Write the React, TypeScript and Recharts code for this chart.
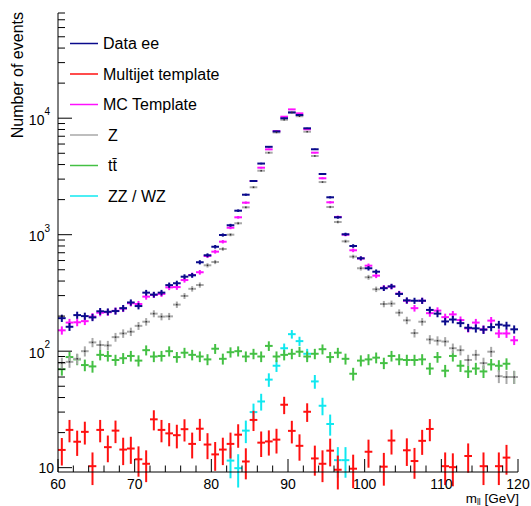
import React from 'react';
import { ComposedChart, Scatter, XAxis, YAxis, ErrorBar, Legend } from 'recharts';

const FONT = '"Liberation Sans", Arial, Helvetica, sans-serif';

const NAVY = '#0a0a8c';
const RED = '#ff1010';
const MAGENTA = '#ff10ff';
const GRAY = '#a8a8a8';
const GREEN = '#44c044';
const CYAN = '#10e8f0';

// bin centres in GeV
const binCenters = [
  60.5, 61.5, 62.5, 63.5, 64.5, 65.5, 66.5, 67.5, 68.5, 69.5,
  70.5, 71.5, 72.5, 73.5, 74.5, 75.5, 76.5, 77.5, 78.5, 79.5,
  80.5, 81.5, 82.5, 83.5, 84.5, 85.5, 86.5, 87.5, 88.5, 89.5,
  90.5, 91.5, 92.5, 93.5, 94.5, 95.5, 96.5, 97.5, 98.5, 99.5,
  100.5, 101.5, 102.5, 103.5, 104.5, 105.5, 106.5, 107.5, 108.5, 109.5,
  110.5, 111.5, 112.5, 113.5, 114.5, 115.5, 116.5, 117.5, 118.5, 119.5,
];

const dataEE = [
  192, 162, 204, 200, 195, 220, 218, 221, 234, 262,
  244, 318, 306, 318, 369, 383, 436, 448, 580, 666,
  788, 994, 1205, 1607, 2204, 2890, 4080, 5680, 7700, 9990,
  11200, 10650, 8190, 5410, 3320, 2094, 1410, 1008, 800, 627,
  515, 481, 347, 360, 310, 273, 271, 271, 226, 210,
  180, 187, 174, 159, 157, 153, 161, 169, 166, 154,
];

const multijet = [
  14.2, 21.1, 16.7, 20.3, 10.3, 21.1, 15.0, 20.8, 14.3, 14.6,
  11.8, 10.8, 26.0, 21.1, 19.7, 19.0, 21.4, 16.0, 21.6, 15.8,
  13.0, 14.3, 16.0, 19.2, 11.3, 25.7, 16.4, 16.8, 17.4, 34.7,
  20.7, 15.4, 30.2, 12.0, 10.8, 14.0, 9.6, null, 9.8, null,
  13.7, null, 10.2, 17.1, null, 14.1, 11.4, 17.0, 21.5, null,
  10.3, 10.1, null, 12.6, null, 10.3, null, 10.3, 12.2, null,
];

const mcTemplate = [
  151, 176, 177, 181, 198, 214, 216, 222, 232, 258,
  254, 294, 304, 310, 353, 355, 408, 451, 476, 656,
  715, 871, 1148, 1410, 1883, 2890, 3760, 5400, 7750, 10300,
  11900, 11000, 8040, 5060, 3050, 1897, 1420, 1000, 735, 625,
  542, 445, 350, 358, 312, 271, 234, 271, 212, 223,
  196, 207, 185, 157, 176, 154, 183, 142, 142, 124,
];

const zMC = [
  79, 81, 86, 100, 119, 113, 112, 132, 142, 147,
  165, 179, 210, 198, 199, 251, 298, 343, 370, 546,
  583, 754, 1000, 1253, 1718, 2553, 3542, 5058, 7550, 9700,
  11200, 10400, 7660, 4740, 2830, 1729, 1285, 877, 648, 515,
  431, 340, 254, 256, 214, 184, 143, 179, 126, 123,
  121, 106, 102, 84, 93, 79, 99, 61, 60, 60,
];

const ttbar = [
  70, 89, 85, 76, 74, 93, 91, 84, 87, 91,
  83, 102, 90, 91, 100, 89, 97, 93, 90, 85,
  105, 86, 98, 100, 90, 95, 90, 111, 90, 93,
  95, 99, 90, 95, 104, 89, 97, 86, 64, 83,
  85, 88, 79, 91, 85, 84, 84, 85, 71, 89,
  68, 91, 75, 67, 71, 67, 77, 75, 78, 60,
];

const dibosons = [
  null, null, null, null, null, null, null, null, null, null,
  null, null, null, null, null, null, null, null, null, null,
  null, null, 11.5, 9.9, 20.8, 30, 37, 57, 75, 106,
  140, 122, 95, 55, 34, 23.7, 11.6, 11.6, null, null,
  null, null, null, null, null, null, null, null, null, null,
  null, null, null, null, null, null, null, null, null, null,
];

const xTicks = [
  60, 62, 64, 66, 68, 70, 72, 74, 76, 78, 80, 82, 84, 86, 88, 90,
  92, 94, 96, 98, 100, 102, 104, 106, 108, 110, 112, 114, 116, 118, 120,
];
const xMajor = [60, 70, 80, 90, 100, 110, 120];

const yTicks = [
  10, 20, 30, 40, 50, 60, 70, 80, 90,
  100, 200, 300, 400, 500, 600, 700, 800, 900,
  1000, 2000, 3000, 4000, 5000, 6000, 7000, 8000, 9000,
  10000, 20000, 30000, 40000, 50000, 60000, 70000, 80000,
];
const yMajor = [10, 100, 1000, 10000];

const legendItems = [
  { label: 'Data ee', color: NAVY, indent: 0 },
  { label: 'Multijet template', color: RED, indent: 0 },
  { label: 'MC Template', color: MAGENTA, indent: 0 },
  { label: 'Z', color: GRAY, indent: 5 },
  { label: 't\u0074\u0304', color: GREEN, indent: 5 },
  { label: 'ZZ / WZ', color: CYAN, indent: 5 },
];

function build(vals: (number | null)[]) {
  const out: { x: number; y: number; ex: number; ey: number }[] = [];
  binCenters.forEach((x, i) => {
    const v = vals[i];
    if (v == null) return;
    out.push({ x, y: v, ex: 0.5, ey: Math.sqrt(v) });
  });
  return out;
}

const series = [
  { name: 'ZZ / WZ', vals: dibosons, color: CYAN, dot: false },
  { name: 'ttbar', vals: ttbar, color: GREEN, dot: false },
  { name: 'Z', vals: zMC, color: GRAY, dot: true },
  { name: 'Multijet template', vals: multijet, color: RED, dot: false },
  { name: 'MC Template', vals: mcTemplate, color: MAGENTA, dot: false },
  { name: 'Data ee', vals: dataEE, color: NAVY, dot: false },
];

const XTick = (props: any) => {
  const { x, y, payload } = props;
  const v = payload.value;
  const major = xMajor.includes(v);
  return (
    <g>
      <line x1={x} y1={y} x2={x} y2={y - (major ? 13 : 6.5)} stroke="#000" strokeWidth={1} />
      {major && (
        <text x={x} y={y + 16.5} textAnchor="middle" fontSize={14} fontFamily={FONT} fill="#000">
          {v}
        </text>
      )}
    </g>
  );
};

const YTick = (props: any) => {
  const { x, y, payload } = props;
  const v = payload.value;
  const major = yMajor.includes(v);
  const exp = Math.round(Math.log10(v));
  return (
    <g>
      <line x1={x} y1={y} x2={x + (major ? 14 : 7)} y2={y} stroke="#000" strokeWidth={1} />
      {major && exp === 1 && (
        <text x={x - 4} y={y + 5} textAnchor="end" fontSize={14} fontFamily={FONT} fill="#000">
          10
        </text>
      )}
      {major && exp > 1 && (
        <text x={x - 8} y={y + 6.5} textAnchor="end" fontSize={14} fontFamily={FONT} fill="#000">
          10
          <tspan dy={-9.5} fontSize={10}>
            {exp}
          </tspan>
        </text>
      )}
    </g>
  );
};

const LegendBox = () => (
  <svg width={220} height={190} style={{ display: 'block' }}>
    {legendItems.map((it, i) => {
      const cy = 15.5 + i * 30.5;
      return (
        <g key={it.label}>
          <line x1={10} y1={cy} x2={38} y2={cy} stroke={it.color} strokeWidth={1.5} />
          <text x={43 + it.indent} y={cy + 5.5} fontSize={16} fontFamily={FONT} fill="#000">
            {it.label}
          </text>
        </g>
      );
    })}
  </svg>
);

export default function App() {
  return (
    <div style={{ position: 'absolute', left: 0, top: 0, background: '#fff' }}>
      <ComposedChart width={531} height={506} margin={{ top: 13, right: 13, bottom: 0, left: 0 }}>
        <XAxis
          type="number"
          dataKey="x"
          domain={[60, 120]}
          allowDataOverflow
          ticks={xTicks}
          interval={0}
          tickSize={0}
          tickMargin={0}
          tickLine={false}
          tick={XTick}
          height={34}
          axisLine={{ stroke: '#000', strokeWidth: 1 }}
          label={{
            content: () => (
              <text x={519} y={503} textAnchor="end" fontSize={13.5} fontFamily={FONT} fill="#000">
                m
                <tspan fontSize={8.5} dy={1.5}>
                  ll
                </tspan>
                <tspan dy={-1.5}> [GeV]</tspan>
              </text>
            ),
          }}
        />
        <XAxis
          xAxisId="top"
          orientation="top"
          type="number"
          domain={[60, 120]}
          height={0}
          tick={false}
          tickLine={false}
          axisLine={{ stroke: '#000', strokeWidth: 1 }}
        />
        <YAxis
          type="number"
          dataKey="y"
          scale="log"
          domain={[9.18, 80000]}
          allowDataOverflow
          ticks={yTicks}
          interval={0}
          tickSize={0}
          tickMargin={0}
          tickLine={false}
          tick={YTick}
          width={58}
          axisLine={{ stroke: '#000', strokeWidth: 1 }}
          label={{
            content: () => (
              <text
                x={23}
                y={12}
                transform="rotate(-90, 23, 12)"
                textAnchor="end"
                fontSize={16}
                fontFamily={FONT}
                fill="#000"
              >
                Number of events
              </text>
            ),
          }}
        />
        <YAxis
          yAxisId="right"
          orientation="right"
          type="number"
          domain={[0, 1]}
          width={0}
          tick={false}
          tickLine={false}
          axisLine={{ stroke: '#000', strokeWidth: 1 }}
        />
        <Legend
          layout="vertical"
          align="center"
          verticalAlign="middle"
          width={220}
          height={190}
          wrapperStyle={{ left: 60, top: 28, width: 220, height: 190 }}
          content={LegendBox}
        />
        {series.map((s) => (
          <Scatter
            key={s.name}
            name={s.name}
            data={build(s.vals)}
            isAnimationActive={false}
            legendType="none"
            shape={(p: any) =>
              s.dot ? (
                <rect x={p.cx - 0.75} y={p.cy - 0.75} width={1.5} height={1.5} fill="#333" />
              ) : (
                <g />
              )
            }
          >
            <ErrorBar dataKey="ey" direction="y" width={0} stroke={s.color} strokeWidth={2} isAnimationActive={false} />
            <ErrorBar dataKey="ex" direction="x" width={0} stroke={s.color} strokeWidth={2} isAnimationActive={false} />
          </Scatter>
        ))}
      </ComposedChart>
    </div>
  );
}
